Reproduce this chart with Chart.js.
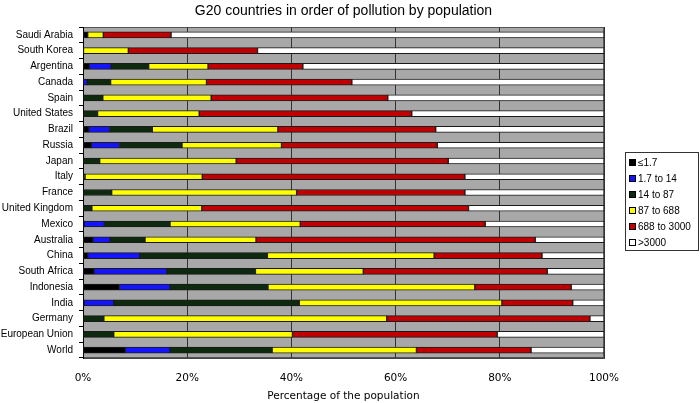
<!DOCTYPE html>
<html>
<head>
<meta charset="utf-8">
<title>G20 countries in order of pollution by population</title>
<script src="https://cdn.jsdelivr.net/npm/chart.js@4/dist/chart.umd.min.js"></script>
<style>
  html, body { margin: 0; padding: 0; background: #fff; }
  .chart-wrap { position: relative; width: 700px; height: 403px; }
</style>
</head>
<body>
<div class="chart-wrap"><canvas id="chart"></canvas></div>
<script>
// ── Data (percent of population per exposure band) ──
const chartTitle = 'G20 countries in order of pollution by population';
const countries = [
    'Saudi Arabia', 'South Korea', 'Argentina', 'Canada', 'Spain', 'United States',
    'Brazil', 'Russia', 'Japan', 'Italy', 'France', 'United Kingdom', 'Mexico',
    'Australia', 'China', 'South Africa', 'Indonesia', 'India', 'Germany',
    'European Union', 'World'
];
const bandLabels = ['≤1.7', '1.7 to 14', '14 to 87', '87 to 688', '688 to 3000', '>3000'];

const upTo1_7     = [0.9, 0, 1.2, 0, 0, 0.3, 1.1, 1.6, 0, 0, 0, 0, 0.2, 1.9, 0.9, 2.1, 7.0, 0.2, 0, 0, 8.1];
const from1_7to14 = [0, 0, 4.2, 0.8, 0, 0, 4.0, 5.4, 0, 0, 0, 0, 3.9, 3.3, 10.0, 14.0, 9.7, 5.7, 0, 0, 8.6];
const from14to87  = [0, 0, 7.2, 4.5, 3.8, 2.5, 8.2, 12.0, 3.2, 0.4, 5.5, 1.7, 12.6, 6.7, 24.5, 17.0, 18.8, 35.6, 4.0, 5.9, 19.6];
const from87to688 = [3.0, 8.7, 11.4, 18.4, 20.8, 19.5, 24.1, 19.1, 26.2, 22.5, 35.5, 21.1, 25.0, 21.3, 32.0, 20.7, 39.7, 38.9, 54.3, 34.3, 27.7];
const from688to3000 = [13.0, 24.8, 18.2, 27.9, 33.9, 40.8, 30.3, 29.9, 40.7, 50.4, 32.3, 51.2, 35.5, 53.6, 20.7, 35.3, 18.5, 13.6, 39.0, 39.3, 22.0];
const over3000    = [83.1, 66.5, 57.8, 48.4, 41.5, 36.9, 32.3, 32.0, 29.9, 26.7, 26.7, 26.0, 22.8, 13.2, 11.9, 10.9, 6.3, 6.0, 2.7, 20.5, 14.0];

const xTicks = [0, 20, 40, 60, 80, 100];

const bandColors = ['#000000', '#1414ff', '#0e2a0e', '#ffff00', '#c00000', '#ffffff'];
const bandValues = [upTo1_7, from1_7to14, from14to87, from87to688, from688to3000, over3000];

// ── Plugins ──
const plotBackground = {
    id: 'plotBackground',
    beforeDraw(chart) {
        const { ctx, chartArea: a } = chart;
        ctx.save();
        ctx.fillStyle = '#a8a8a8';
        ctx.fillRect(a.left, a.top, a.right - a.left, a.bottom - a.top);
        ctx.strokeStyle = '#555';
        ctx.lineWidth = 1;
        ctx.strokeRect(a.left + 0.5, a.top + 0.5, a.right - a.left - 1, a.bottom - a.top - 1);

        // title sits centred over the plot area, not the canvas
        ctx.fillStyle = '#000';
        ctx.font = '14px "Liberation Sans", Arial, sans-serif';
        ctx.textAlign = 'center';
        ctx.textBaseline = 'middle';
        ctx.fillText(chartTitle, (a.left + a.right) / 2, 11);
        ctx.restore();
    }
};

// legend box on the right, drawn from the datasets
const boxLegend = {
    id: 'boxLegend',
    afterDraw(chart) {
        const { ctx } = chart;
        ctx.save();
        ctx.strokeStyle = '#333';
        ctx.lineWidth = 1;
        ctx.strokeRect(625.5, 152.5, 73, 98);
        ctx.font = '10px "Liberation Sans", Arial, sans-serif';
        ctx.textBaseline = 'middle';
        chart.data.datasets.forEach((ds, i) => {
            const y = 163 + i * 16;
            ctx.fillStyle = ds.backgroundColor;
            ctx.fillRect(629.5, y - 3.5, 6, 6);
            ctx.strokeStyle = '#000';
            ctx.strokeRect(629.5, y - 3.5, 6, 6);
            ctx.fillStyle = '#000';
            ctx.fillText(ds.label, 638, y);
        });
        ctx.restore();
    }
};

const datasets = bandLabels.map((label, i) => ({
    label,
    data: bandValues[i],
    backgroundColor: bandColors[i],
    borderColor: '#1a1a1a',
    borderWidth: 1,
    borderSkipped: false,
    barThickness: 6,
}));

new Chart(document.getElementById('chart'), {
    type: 'bar',
    data: { labels: countries, datasets },
    options: {
        indexAxis: 'y',
        responsive: true,
        maintainAspectRatio: false,
        animation: false,
        layout: { padding: { left: 0, right: 96, top: 27, bottom: 0 } },
        plugins: {
            legend: { display: false },
            tooltip: { enabled: false },
            title: { display: false },
        },
        scales: {
            x: {
                stacked: true,
                min: 0,
                max: 100,
                afterBuildTicks: scale => { scale.ticks = xTicks.map(v => ({ value: v })); },
                afterFit: scale => { scale.height = 45; },
                ticks: {
                    color: '#000',
                    padding: 14,
                    font: { family: '"DejaVu Sans", Verdana, sans-serif', size: 10.5 },
                    callback: v => v + '%',
                },
                grid: { color: '#333', lineWidth: 1, drawTicks: false },
                border: { display: true, color: '#444' },
                title: {
                    display: true,
                    text: 'Percentage of the population',
                    color: '#000',
                    font: { family: '"DejaVu Sans", Verdana, sans-serif', size: 10.5 },
                    padding: { top: 0, bottom: 0 },
                },
            },
            y: {
                stacked: true,
                afterFit: scale => { scale.width = 83; },
                ticks: {
                    color: '#000',
                    padding: 6,
                    autoSkip: false,
                    font: { family: '"Liberation Sans", Arial, sans-serif', size: 10 },
                },
                grid: { drawOnChartArea: false, drawTicks: true, tickLength: 4, color: '#000' },
                border: { display: true, color: '#000' },
            },
        },
    },
    plugins: [plotBackground, boxLegend],
});
</script>
</body>
</html>
